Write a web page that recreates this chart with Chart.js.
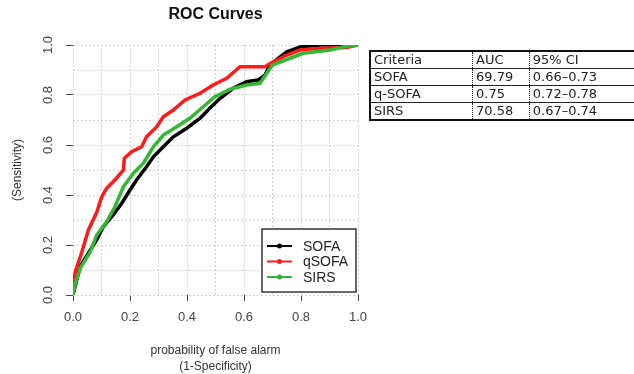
<!DOCTYPE html>
<html>
<head>
<meta charset="utf-8">
<script src="https://cdn.jsdelivr.net/npm/chart.js@4/dist/chart.umd.min.js"></script>
<style>
  html, body { margin: 0; padding: 0; background: #fff; }
  #wrap { position: relative; width: 634px; height: 374px; overflow: hidden; }
  #roc { position: absolute; left: 0; top: 0; }
  #auc {
    position: absolute; left: 369px; top: 50px; width: 268px;
    border-collapse: collapse; border: 2px solid #111;
    font-family: "DejaVu Sans", sans-serif; font-size: 13px; color: #222;
  }
  #auc td { height: 16px; padding: 0 3px; line-height: 16px; border-top: 1px solid #222; border-left: 1.5px dotted #222; white-space: nowrap; }
  #auc td:first-child { border-left: none; }
</style>
</head>
<body>
<div id="wrap">
  <canvas id="roc" width="634" height="374"></canvas>
  <table id="auc"></table>
</div>
<script>
// ROC curve points (false alarm rate, sensitivity)
const seriesNames = ['SOFA', 'qSOFA', 'SIRS'];
const seriesColors = ['#000000', '#ff1a1a', '#33b833'];

const sofaFpr = [0, 0.007, 0.025, 0.054, 0.083, 0.106, 0.141, 0.171, 0.2, 0.223, 0.258, 0.282, 0.317, 0.352, 0.399, 0.446, 0.48, 0.516, 0.562, 0.609, 0.65, 0.674, 0.69, 0.75, 0.80, 0.87, 1];
const sofaTpr = [0, 0.033, 0.113, 0.167, 0.22, 0.273, 0.32, 0.367, 0.42, 0.46, 0.513, 0.553, 0.593, 0.633, 0.667, 0.707, 0.747, 0.787, 0.827, 0.853, 0.86, 0.88, 0.92, 0.973, 0.993, 1.0, 1];

const qsofaFpr = [0, 0, 0.01, 0.03, 0.054, 0.083, 0.10, 0.118, 0.147, 0.177, 0.18, 0.206, 0.241, 0.258, 0.294, 0.317, 0.352, 0.393, 0.446, 0.492, 0.539, 0.586, 0.674, 0.69, 0.75, 0.796, 0.87, 0.96, 1];
const qsofaTpr = [0, 0.05, 0.1, 0.168, 0.26, 0.33, 0.39, 0.427, 0.46, 0.50, 0.547, 0.573, 0.593, 0.633, 0.673, 0.713, 0.74, 0.78, 0.807, 0.84, 0.867, 0.913, 0.913, 0.925, 0.96, 0.98, 0.987, 0.99, 1];

const sirsFpr = [0, 0.007, 0.025, 0.061, 0.083, 0.118, 0.147, 0.177, 0.212, 0.247, 0.282, 0.317, 0.364, 0.41, 0.457, 0.498, 0.551, 0.609, 0.656, 0.68, 0.70, 0.761, 0.808, 0.902, 0.95, 1];
const sirsTpr = [0, 0.04, 0.107, 0.173, 0.24, 0.293, 0.353, 0.433, 0.487, 0.527, 0.593, 0.64, 0.673, 0.707, 0.753, 0.793, 0.823, 0.84, 0.847, 0.887, 0.92, 0.947, 0.967, 0.98, 0.993, 1];

// table beside the plot
const tableHeader = ['Criteria', 'AUC', '95% CI'];
const tableCriteria = ['SOFA', 'q-SOFA', 'SIRS'];
const tableAuc = ['69.79', '0.75', '70.58'];
const tableCi = ['0.66\u20130.73', '0.72\u20130.78', '0.67\u20130.74'];

const zip = (xs, ys) => xs.map((x, i) => ({ x: x, y: ys[i] }));

function buildTable() {
    const t = document.getElementById('auc');
    const rows = [tableHeader].concat(tableCriteria.map((c, i) => [c, tableAuc[i], tableCi[i]]));
    rows.forEach((r, ri) => {
        const tr = document.createElement('tr');
        r.forEach((cell, ci) => {
            const td = document.createElement('td');
            td.textContent = cell;
            td.style.width = ['96px', '50px', '100px'][ci];
            if (ri === 0) td.style.borderTop = 'none';
            tr.appendChild(td);
        });
        t.appendChild(tr);
    });
}

// title + boxed legend drawn on the canvas, R style
const extras = {
    id: 'extras',
    afterDraw(chart) {
        const ctx = chart.ctx;
        const area = chart.chartArea;
        ctx.save();
        ctx.fillStyle = '#111';
        ctx.font = 'bold 16px "Liberation Sans", Arial, sans-serif';
        ctx.textAlign = 'center';
        ctx.textBaseline = 'middle';
        ctx.fillText('ROC Curves', (area.left + area.right) / 2, 15);

        // legend box
        const bx = 262, by = 229, bw = 94, bh = 63;
        ctx.strokeStyle = '#333';
        ctx.lineWidth = 1.5;
        ctx.fillStyle = '#fff';
        ctx.fillRect(bx, by, bw, bh);
        ctx.strokeRect(bx, by, bw, bh);
        ctx.font = '14px "Liberation Sans", Arial, sans-serif';
        ctx.textAlign = 'left';
        seriesNames.forEach((name, i) => {
            const y = 246 + i * 15.5;
            ctx.strokeStyle = seriesColors[i];
            ctx.lineWidth = 2;
            ctx.beginPath();
            ctx.moveTo(267, y);
            ctx.lineTo(292, y);
            ctx.stroke();
            ctx.fillStyle = seriesColors[i];
            ctx.beginPath();
            ctx.arc(279.5, y, 2.5, 0, Math.PI * 2);
            ctx.fill();
            ctx.fillStyle = '#222';
            ctx.fillText(name, 303, y + 1);
        });
        ctx.restore();
    }
};

function makeChart() {
    const ctx = document.getElementById('roc').getContext('2d');
    const pairs = [[sofaFpr, sofaTpr], [qsofaFpr, qsofaTpr], [sirsFpr, sirsTpr]];
    const drawOrder = [3, 2, 1];
    const tickFont = { family: '"Liberation Sans", Arial, sans-serif', size: 13 };
    const gridTickColor = c => (Math.round(c.tick.value * 10) % 2 === 0 ? '#444' : 'rgba(0,0,0,0)');

    new Chart(ctx, {
        type: 'line',
        data: {
            datasets: pairs.map((p, i) => ({
                label: seriesNames[i],
                data: zip(p[0], p[1]),
                borderColor: seriesColors[i],
                backgroundColor: seriesColors[i],
                borderWidth: 3.5,
                pointRadius: 0,
                tension: 0,
                fill: false,
                order: drawOrder[i]
            }))
        },
        options: {
            responsive: false,
            animation: false,
            layout: { padding: { top: 45, right: 276, left: 0, bottom: 0 } },
            plugins: { legend: { display: false }, tooltip: { enabled: false } },
            scales: {
                x: {
                    type: 'linear', min: 0, max: 1,
                    afterFit: s => { s.height = 79; },
                    ticks: {
                        stepSize: 0.1, padding: 9, color: '#444', font: tickFont, maxRotation: 0,
                        callback: v => (Math.round(v * 10) % 2 === 0 ? v.toFixed(1) : '')
                    },
                    grid: { color: '#d0d0d0', lineWidth: 1, tickLength: 6, tickColor: gridTickColor, tickBorderDash: [] },
                    border: { display: false, dash: [2, 2] },
                    title: {
                        display: true,
                        text: ['probability of false alarm', '(1-Specificity)'],
                        color: '#333',
                        font: { family: '"Liberation Sans", Arial, sans-serif', size: 12, lineHeight: 1.3 },
                        padding: { top: 0, bottom: 0 }
                    }
                },
                y: {
                    type: 'linear', min: 0, max: 1,
                    afterFit: s => { s.width = 73; },
                    ticks: {
                        stepSize: 0.1, padding: 9, color: '#444', font: tickFont,
                        minRotation: 90, maxRotation: 90, crossAlign: 'center',
                        callback: v => (Math.round(v * 10) % 2 === 0 ? v.toFixed(1) : '')
                    },
                    grid: { color: '#d0d0d0', lineWidth: 1, tickLength: 7, tickColor: gridTickColor, tickBorderDash: [] },
                    border: { display: false, dash: [2, 2] },
                    title: {
                        display: true,
                        text: '(Sensitivity)',
                        color: '#333',
                        font: { family: '"Liberation Sans", Arial, sans-serif', size: 12 },
                        padding: { top: 10, bottom: 0 }
                    }
                }
            }
        },
        plugins: [extras]
    });
}

buildTable();
makeChart();
</script>
</body>
</html>
